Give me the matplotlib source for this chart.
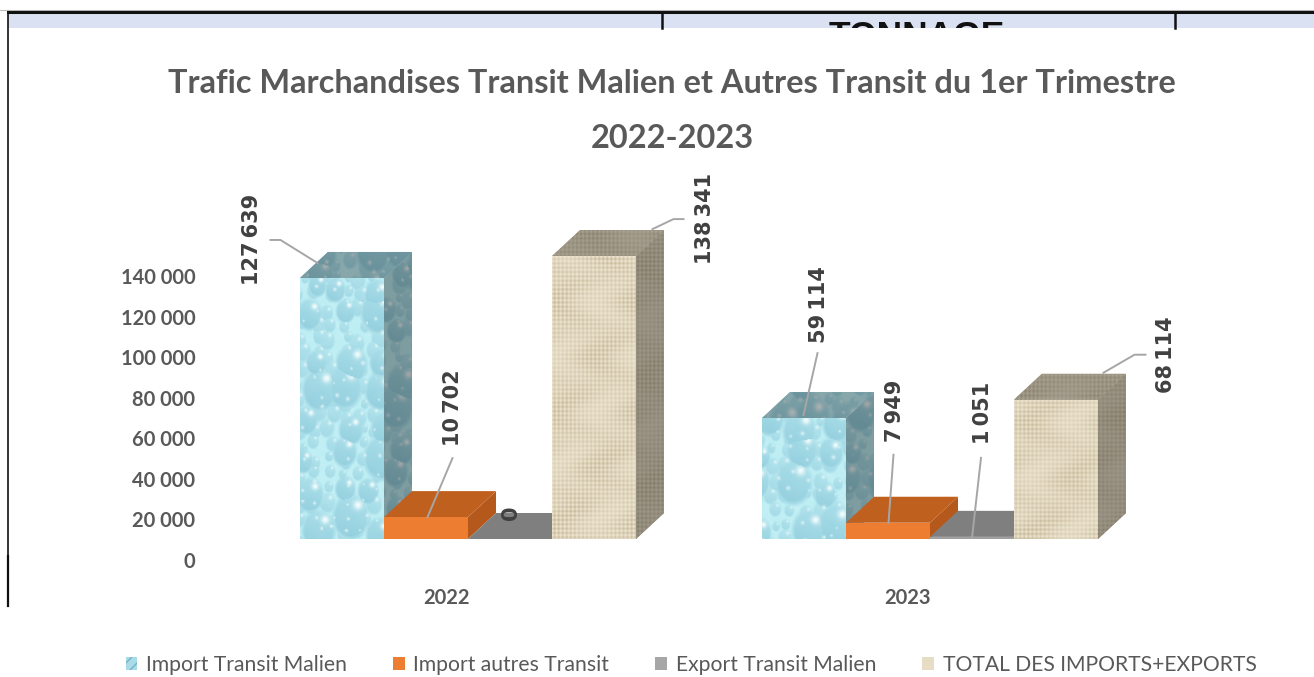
import numpy as np
import matplotlib
matplotlib.use("Agg")
import matplotlib.pyplot as plt
from matplotlib.patches import Polygon, Patch, Rectangle
from matplotlib.lines import Line2D

W, H = 1314, 677
years = ["2022", "2023"]
series = ["Import Transit Malien", "Import autres Transit", "Export Transit Malien", "TOTAL DES IMPORTS+EXPORTS"]
import_malien = [127639, 59114]
import_autres = [10702, 7949]
export_malien = [0, 1051]
total = [138341, 68114]
values = [import_malien, import_autres, export_malien, total]
yticks = [0, 20000, 40000, 60000, 80000, 100000, 120000, 140000]
title_lines = "Trafic Marchandises Transit Malien et Autres Transit du 1er Trimestre\n2022-2023"

GREY = "#595959"
styles = [
    dict(front="#B7E6EF", side="#6F9FAC", top="#7DA9B5", tex="water"),
    dict(front="#ED7D31", side="#B4591B", top="#C0601F", tex=None),
    dict(front="#A0A0A0", side="#6E6E6E", top="#7F7F7F", tex=None),
    dict(front="#E7DDC4", side="#9A8F7A", top="#A89E8A", tex="burlap"),
]

PX_X = 462.0          # pixels per category unit
PX_Y = 2.045 / 1000   # pixels per data unit
X0, Y0 = 468.0, 539.0 # pixel of category 0 / value 0
BAR = 84 / PX_X
DX, DY = 28 / PX_X, 26 / PX_Y

fig = plt.figure(figsize=(W / 100, H / 100), dpi=100, facecolor="white")

def fx(p): return p / W
def fy(p): return 1 - p / H

# fragment of the surrounding table
fig.patches.append(Rectangle((fx(8), fy(28)), fx(1306), 15 / H, transform=fig.transFigure, fc="#DAE1F2", ec="none"))
for xs, ys, lw, c in [
    ((0, W), (10, 10), 0.8, "#BBBBBB"),
    ((8, W), (12, 12), 2.2, "#111111"),
    ((662, 662), (12, 28), 1.8, "#111111"),
    ((1175, 1175), (12, 28), 1.8, "#111111"),
    ((8, 8), (12, 555), 1.2, "#111111"),
    ((8, 8), (556, 606), 1.6, "#111111"),
]:
    fig.add_artist(Line2D([fx(a) for a in xs], [fy(b) for b in ys], transform=fig.transFigure, lw=lw, color=c))
clip = Rectangle((fx(662), fy(28)), fx(500), 16 / H, transform=fig.transFigure)
t = fig.text(fx(917), fy(20.5), "TONNAGE", family="Liberation Sans", weight="bold", fontsize=25.5,
             ha="center", va="top", color="#111111")
t.set_clip_path(clip)
t.set_clip_on(True)

ax = fig.add_axes([0, 0, 1, 1], facecolor="none")
xlim = (-X0 / PX_X, (W - X0) / PX_X)
ylim = (-(H - Y0) / PX_Y, Y0 / PX_Y)

def rgb(h):
    return np.array(matplotlib.colors.to_rgb(h))

def frac_hash(i, j, k):
    return np.mod(np.sin(i * 12.9898 + j * 78.233 + k) * 43758.5453, 1.0)

def drops(x, y, cell, k):
    """Surface shading of one layer of drops on a jittered lattice; 0 outside a drop."""
    ci, cj = np.floor(x / cell), np.floor(y / cell)
    best_d = np.full(x.shape, 9.0)
    best_dx = np.zeros(x.shape)
    best_dy = np.zeros(x.shape)
    for a in (-1, 0, 1):
        for b in (-1, 0, 1):
            i, j = ci + a, cj + b
            cx = (i + 0.2 + 0.6 * frac_hash(i, j, k)) * cell
            cy = (j + 0.2 + 0.6 * frac_hash(i, j, k + 3.1)) * cell
            r = cell * (0.28 + 0.34 * frac_hash(i, j, k + 5.7))
            ddx, ddy = (x - cx) / r, (y - cy) / (r * 1.25)
            d = np.hypot(ddx, ddy)
            m = d < best_d
            best_d[m], best_dx[m], best_dy[m] = d[m], ddx[m], ddy[m]
    inside = np.clip((1 - best_d) * 4, 0, 1)
    # darker lower left, bright crescent upper right
    body = 0.55 * (1 - 0.55 * (best_dy + 0.3 * best_dx + 1) / 2)
    gloss = np.exp(-(((best_dx - 0.35) / 0.22) ** 2 + ((best_dy - 0.45) / 0.18) ** 2))
    return inside * body, inside * gloss

def texture(kind, w, h, shade, phase):
    """Procedural surface pattern (decoration only, no data)."""
    y, x = np.mgrid[0:max(h, 2), 0:max(w, 2)].astype(float)
    x = x + phase
    y = y + phase * 0.6
    if kind == "water":
        base, deep, bright = rgb("#BDEEF4"), rgb("#6FB4CB"), rgb("#F2FCFD")
        b1, g1 = drops(x, y, 34.0, 1.3)
        b2, g2 = drops(x, y, 15.0, 2.9)
        v = np.maximum(b1, 0.65 * b2)[..., None]
        g = np.maximum(g1, 0.7 * g2)[..., None]
        ripple = (0.5 + 0.5 * np.sin(x / 4 + 2 * np.sin(y / 7)) * np.sin(y / 5))[..., None]
        img = base * (1 - 0.12 * ripple) + bright * 0.12 * ripple
        img = img * (1 - v) + deep * v
        img = img * (1 - g) + bright * g
    else:
        v = 0.5 + 0.25 * np.sin(x * 1.55) + 0.25 * np.sin(y * 1.45)
        v *= 0.72 + 0.28 * np.sin(x / 13 + np.sin(y / 9)) * np.sin(y / 17)
        v = np.clip(v, 0, 1)[..., None]
        img = rgb("#EEE6D2") * (1 - v) + rgb("#C6B898") * v
    return np.clip(img * shade, 0, 1)

def add_face(pts, st, shade, color, z, phase):
    patch = Polygon(pts, closed=True, fc=color, ec="none", zorder=z)
    ax.add_patch(patch)
    if st["tex"]:
        xs, ys = zip(*pts)
        w = int((max(xs) - min(xs)) * PX_X)
        h = int((max(ys) - min(ys)) * PX_Y)
        if w > 1 and h > 1:
            im = ax.imshow(texture(st["tex"], w, h, shade, phase), origin="lower", aspect="auto",
                           extent=(min(xs), max(xs), min(ys), max(ys)), interpolation="bilinear", zorder=z)
            im.set_clip_path(patch)

for g in range(len(years)):
    for s, st in enumerate(styles):
        v = values[s][g]
        x = g - 2 * BAR + s * BAR
        z = 3 + s
        ax.bar(x, v, BAR, align="edge", color=st["front"], lw=0, zorder=z)
        top = [(x, v), (x + DX, v + DY), (x + BAR + DX, v + DY), (x + BAR, v)]
        side = [(x + BAR, 0), (x + BAR + DX, DY), (x + BAR + DX, v + DY), (x + BAR, v)]
        front = [(x, 0), (x, v), (x + BAR, v), (x + BAR, 0)]
        add_face(side, st, 0.66, st["side"], z, 40 + 70 * g)
        add_face(top, st, 0.7, st["top"], z, 90 + 50 * g)
        add_face(front, st, 1.0, st["front"], z, 7 + 110 * g)

ax.set_xlim(xlim)
ax.set_ylim(ylim)
ax.axis("off")

def off(x, v, dx, dy):
    return x + dx / PX_X, v - dy / PX_Y

# value labels: (group, series, leader points, text centre) as pixel offsets from the bar's front top centre
leaders = [
    (0, 0, [(-24.5, -15), (-61.5, -38), (-71.5, -38)], (-89.5, -39)),
    (0, 1, [(1.5, 0), (26.5, -59)], (27, -109)),
    (0, 2, [], (1.5, -26)),
    (0, 3, [(58.5, -27), (79.5, -37), (89.5, -37)], (111, -38)),
    (1, 0, [(-0.5, -3), (13.5, -65)], (15.5, -114)),
    (1, 1, [(0.5, 0), (5.5, -68)], (7.5, -112)),
    (1, 2, [(0, 1), (9, -79)], (11, -124)),
    (1, 3, [(47.5, -27), (78.5, -45), (89.5, -45)], (110, -45)),
]
for g, s, path, (tx, ty) in leaders:
    v = values[s][g]
    cx = g - 2 * BAR + s * BAR + BAR / 2
    if path:
        pts = [off(cx, v, a, b) for a, b in path]
        ax.plot([p[0] for p in pts], [p[1] for p in pts], color="#A6A6A6", lw=1.4, zorder=10)
    px, py = off(cx, v, tx, ty)
    label = f"{v:,}".replace(",", "\u2009")
    ax.text(px, py, label, rotation=90, ha="center", va="center", family="DejaVu Sans", weight="bold",
            fontsize=15, color="#404040", zorder=11)

# tick labels sit on the chart floor, below and left of the front faces
ax2 = fig.add_axes([fx(200), 1 - 560 / H, 1000 / W, (560 - 276) / H], facecolor="none")
ax2.set_ylim(0, 140000)
ax2.set_xlim((200 - 447) / 461, (1200 - 447) / 461)
ax2.set_yticks(yticks)
ax2.set_yticklabels([f"{v:,}".replace(",", " ") for v in yticks])
ax2.set_xticks(range(len(years)))
ax2.set_xticklabels(years)
ax2.tick_params(length=0, labelcolor=GREY)
ax2.tick_params(axis="y", pad=3.5)
ax2.tick_params(axis="x", pad=20)
for lab in ax2.get_xticklabels() + ax2.get_yticklabels():
    lab.set_family("Lato")
    lab.set_weight("bold")
    lab.set_fontsize(14.5)
for sp in ax2.spines.values():
    sp.set_visible(False)

fig.text(fx(672), fy(111), title_lines, family="Lato", weight="bold", fontsize=23.4, color=GREY,
         ha="center", va="center", linespacing=2.05)

handles = [Patch(fc=st["front"], lw=0) for st in styles]
handles[0] = Patch(fc="#A9DCE8", hatch="///", ec="#74B3C6", lw=0)
handles[2] = Patch(fc="#A6A6A6", lw=0)
fig.legend(handles, series, loc="center", bbox_to_anchor=(fx(691), fy(665)), ncol=4, frameon=False,
           prop=dict(family="Lato", size=15.2), labelcolor=GREY, handlelength=0.55, handleheight=0.6,
           handletextpad=0.4, columnspacing=2.2)

fig.savefig("out.png", dpi=100)
